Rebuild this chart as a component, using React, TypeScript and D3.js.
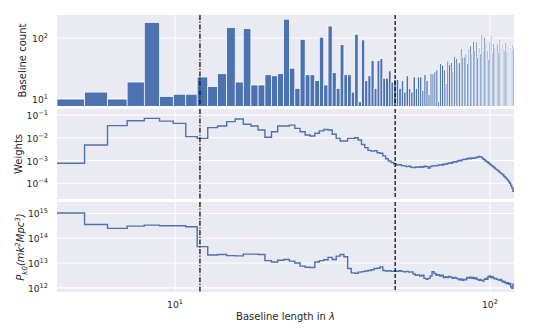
import React from 'react';
import * as d3 from 'd3';

// histogram bins (linear in baseline length)
const binStart = 4.22;
const binWidth = 0.9425;

const counts = [
  10, 13, 10, 19, 180, 11, 12, 12, 23, 16, 26, 148, 19, 142, 17, 17, 25, 24, 26, 203,
  32, 15, 95, 25, 25, 20, 103, 17, 157, 27, 15, 78, 25, 25, 13, 115, 9, 93, 20, 24,
  43, 15, 43, 46, 22, 22, 29, 19, 21, 21, 15, 20, 13, 24, 15, 13, 23, 15, 23, 23,
  14, 25, 20, 12, 26, 26, 28, 30, 9, 39, 36, 30, 18, 42, 38, 40, 28, 51, 46, 39,
  40, 68, 49, 49, 56, 39, 68, 75, 56, 89, 63, 87, 49, 70, 56, 115, 63, 105, 80, 63,
  45, 87, 112, 58, 81, 70, 74, 80, 58, 96, 68, 80, 66, 63, 85, 60, 75, 55, 70, 62,
  78, 68,
];

const weights = [
  7.6e-4, 4.8e-3, 0.034, 0.056, 0.071, 0.054, 0.043, 0.0112, 0.0094, 0.028,
  0.033, 0.051, 0.067, 0.039, 0.033, 0.022, 0.0105, 0.0185, 0.033, 0.033,
  0.036, 0.026, 0.0185, 0.0132, 0.012, 0.0158, 0.02, 0.023, 0.022, 0.0142,
  0.0094, 0.0072, 0.0072, 0.0094, 0.0094, 0.01, 0.008, 0.0051, 0.0037, 0.0028,
  0.0026, 0.0027, 0.0022, 0.0021, 0.0016, 0.0012, 9.5e-4, 8.2e-4, 7.2e-4, 6.4e-4,
  6.6e-4, 6.0e-4, 5.8e-4, 5.4e-4, 5.6e-4, 5.0e-4, 4.9e-4, 5.2e-4, 5.0e-4, 5.3e-4,
  5.1e-4, 5.6e-4, 5.4e-4, 4.7e-4, 5.5e-4, 5.8e-4, 6.0e-4, 5.8e-4, 6.3e-4, 6.6e-4,
  6.4e-4, 7.0e-4, 6.8e-4, 7.4e-4, 7.8e-4, 7.6e-4, 8.4e-4, 8.8e-4, 8.6e-4, 9.5e-4,
  1.0e-3, 9.8e-4, 1.1e-3, 1.15e-3, 1.1e-3, 1.2e-3, 1.25e-3, 1.2e-3, 1.3e-3, 1.25e-3,
  1.3e-3, 1.35e-3, 1.4e-3, 1.5e-3, 1.45e-3, 1.4e-3, 1.2e-3, 1.1e-3, 9.5e-4, 8.8e-4,
  8.0e-4, 7.2e-4, 6.4e-4, 5.8e-4, 5.2e-4, 4.7e-4, 4.2e-4, 3.9e-4, 3.5e-4, 3.1e-4,
  2.8e-4, 2.6e-4, 2.3e-4, 2.0e-4, 1.8e-4, 1.6e-4, 1.4e-4, 1.2e-4, 1.0e-4, 8.0e-5,
  6.2e-5, 4.5e-5,
];

const power = [
  1.05e15, 3.6e14, 2.5e14, 3.1e14, 3.4e14, 3.2e14, 3.2e14, 2.9e14, 4.6e13, 2.1e13,
  2.2e13, 2.0e13, 1.95e13, 2.3e13, 2.3e13, 2.2e13, 1.25e13, 1.1e13, 1.3e13, 1.4e13,
  1.2e13, 1.0e13, 7.5e12, 6.8e12, 6.6e12, 1.1e13, 1.25e13, 1.35e13, 1.7e13, 1.4e13,
  1.9e13, 2.2e13, 1.8e13, 6.0e12, 4.0e12, 3.9e12, 4.3e12, 4.5e12, 4.8e12, 5.0e12,
  5.4e12, 6.0e12, 6.2e12, 7.0e12, 5.0e12, 4.8e12, 4.9e12, 4.6e12, 4.8e12, 4.7e12,
  4.9e12, 4.6e12, 4.4e12, 4.6e12, 4.3e12, 4.4e12, 3.6e12, 3.2e12, 3.3e12, 3.0e12,
  3.2e12, 2.4e12, 2.2e12, 2.4e12, 3.0e12, 4.5e12, 3.8e12, 3.2e12, 3.4e12, 3.0e12,
  3.2e12, 2.6e12, 2.8e12, 2.6e12, 2.9e12, 2.7e12, 2.4e12, 2.6e12, 2.5e12, 2.3e12,
  2.1e12, 2.3e12, 2.0e12, 2.2e12, 2.1e12, 2.6e12, 2.5e12, 2.7e12, 2.4e12, 2.6e12,
  2.3e12, 2.5e12, 2.2e12, 2.0e12, 2.2e12, 2.0e12, 1.9e12, 2.2e12, 2.4e12, 2.2e12,
  2.8e12, 3.0e12, 2.6e12, 2.8e12, 2.5e12, 2.3e12, 2.4e12, 2.2e12, 2.1e12, 2.0e12,
  2.2e12, 1.9e12, 1.7e12, 1.8e12, 1.6e12, 1.5e12, 1.6e12, 1.4e12, 1.5e12, 1.1e12,
  0.95e12, 1.4e12,
];

const xDomain = [4.22, 119.2];
const xTicks = [10, 100];
const xTickExp = ['1', '2'];
const countTicks = [10, 100];
const countTickExp = ['1', '2'];
const weightTicks = [1e-1, 1e-2, 1e-3, 1e-4];
const weightTickExp = ['\u22121', '\u22122', '\u22123', '\u22124'];
const powerTicks = [1e15, 1e14, 1e13, 1e12];
const powerTickExp = ['15', '14', '13', '12'];
const cutLow = 12;
const cutHigh = 50;

const W = 539;
const H = 331;
const left = 57;
const right = 514;
const blue = '#4c72b0';
const ink = '#262626';
const font = 'DejaVu Sans, sans-serif';

const panels = [
  { key: 'count', y0: 15, y1: 106, domain: [7.7, 238] },
  { key: 'weight', y0: 109, y1: 199, domain: [2.04e-5, 0.1837] },
  { key: 'power', y0: 202, y1: 292, domain: [6.8e11, 2.9e15] },
];

const Pow10 = ({ x, y, exp, anchor }) => (
  <text x={x} y={y} textAnchor={anchor} fontSize={9.2} fill={ink} fontFamily={font}>
    10<tspan dy={-4} fontSize={6.6}>{exp}</tspan>
  </text>
);

export default function App() {
  const x = d3.scaleLog().domain(xDomain).range([left, right]);
  const edges = d3.range(counts.length + 1).map(i => binStart + i * binWidth);
  const ys = panels.map(p => d3.scaleLog().domain(p.domain).range([p.y1, p.y0]));

  const stepPath = (vals, y) =>
    d3.line().curve(d3.curveStepAfter)(
      edges.map((e, i) => [x(e), y(vals[Math.min(i, vals.length - 1)])])
    );

  const yTicks = [countTicks, weightTicks, powerTicks];
  const yExps = [countTickExp, weightTickExp, powerTickExp];

  return (
    <svg width={W} height={H} style={{ position: 'fixed', left: 0, top: 0, background: '#fff' }}>
      <defs>
        {panels.map(p => (
          <clipPath id={'clip-' + p.key} key={p.key}>
            <rect x={left} y={p.y0} width={right - left} height={p.y1 - p.y0} />
          </clipPath>
        ))}
      </defs>

      {panels.map((p, pi) => (
        <g key={p.key}>
          <rect x={left} y={p.y0} width={right - left} height={p.y1 - p.y0} fill="#eaeaf2" />
          {xTicks.map(t => (
            <line key={t} x1={x(t)} x2={x(t)} y1={p.y0} y2={p.y1} stroke="#fff" strokeWidth={1.1} />
          ))}
          {yTicks[pi].map(t => (
            <line key={t} x1={left} x2={right} y1={ys[pi](t)} y2={ys[pi](t)} stroke="#fff" strokeWidth={1.1} />
          ))}
          {yTicks[pi].map((t, i) => (
            <Pow10 key={t} x={48} y={ys[pi](t) + 4} exp={yExps[pi][i]} anchor="end" />
          ))}
        </g>
      ))}

      {/* baseline count histogram */}
      <g clipPath="url(#clip-count)">
        {counts.map((c, i) => (
          <rect
            key={i}
            x={x(edges[i])}
            y={ys[0](c)}
            width={x(edges[i + 1]) - x(edges[i])}
            height={panels[0].y1 + 2 - ys[0](c)}
            fill={blue}
            stroke="#fff"
            strokeWidth={0.7}
          />
        ))}
      </g>

      <g clipPath="url(#clip-weight)">
        <path d={stepPath(weights, ys[1])} fill="none" stroke={blue} strokeWidth={1.4} />
      </g>
      <g clipPath="url(#clip-power)">
        <path d={stepPath(power, ys[2])} fill="none" stroke={blue} strokeWidth={1.4} />
      </g>

      {panels.map(p => (
        <g key={'v' + p.key}>
          <line x1={x(cutLow)} x2={x(cutLow)} y1={p.y0} y2={p.y1} stroke="#111" strokeWidth={1.3} strokeDasharray="5,1.6,1.2,1.6" />
          <line x1={x(cutHigh)} x2={x(cutHigh)} y1={p.y0} y2={p.y1} stroke="#111" strokeWidth={1.3} strokeDasharray="4,2" />
        </g>
      ))}

      {xTicks.map((t, i) => (
        <Pow10 key={t} x={x(t)} y={308} exp={xTickExp[i]} anchor="middle" />
      ))}

      <text x={(left + right) / 2} y={320} textAnchor="middle" fontSize={10} fill={ink} fontFamily={font}>
        Baseline length in <tspan fontStyle="italic">λ</tspan>
      </text>

      <text transform={`translate(26,${(panels[0].y0 + panels[0].y1) / 2}) rotate(-90)`} textAnchor="middle" fontSize={10} fill={ink} fontFamily={font}>
        Baseline count
      </text>
      <text transform={`translate(22,${(panels[1].y0 + panels[1].y1) / 2}) rotate(-90)`} textAnchor="middle" fontSize={10} fill={ink} fontFamily={font}>
        Weights
      </text>
      <text transform={`translate(24,${(panels[2].y0 + panels[2].y1) / 2}) rotate(-90)`} textAnchor="middle" fontSize={10} fill={ink} fontFamily={font} fontStyle="italic">
        P<tspan dy={2.5} fontSize={7}>k0</tspan>
        <tspan dy={-2.5}>(mk</tspan>
        <tspan dy={-4} fontSize={7}>2</tspan>
        <tspan dy={4}>Mpc</tspan>
        <tspan dy={-4} fontSize={7}>3</tspan>
        <tspan dy={4}>)</tspan>
      </text>
    </svg>
  );
}
